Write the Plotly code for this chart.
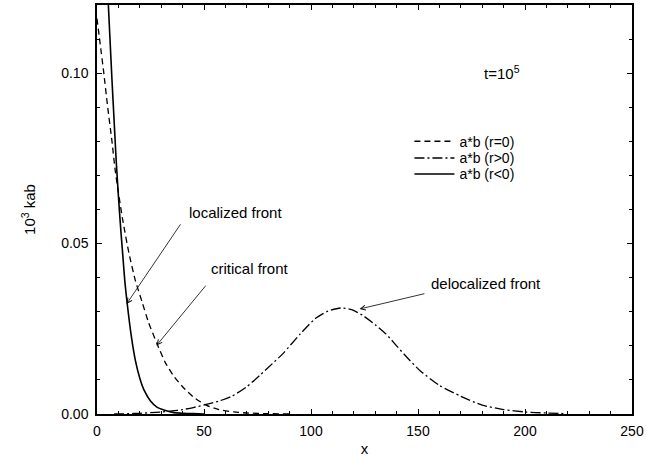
import plotly.graph_objects as go

# r<0 (solid)
x_neg = [4, 5, 6, 7, 8, 9, 10, 11, 12, 13, 14, 16, 18, 20, 22, 25, 28, 32, 36, 40, 45, 50]
y_neg = [0.137, 0.124, 0.111, 0.098, 0.086, 0.074, 0.064, 0.055, 0.047, 0.039, 0.033, 0.023,
         0.0155, 0.0105, 0.007, 0.0038, 0.002, 0.001, 0.0004, 0.0002, 0.0001, 0.0]

# r=0 (dashed)
x_zero = [0, 1, 2, 3, 5, 7, 8.4, 10, 12, 15, 18, 21, 24, 28, 32, 36, 40, 45, 51, 57, 64, 70, 80, 90]
y_zero = [0.116, 0.111, 0.106, 0.101, 0.090, 0.080, 0.072, 0.065, 0.057, 0.047, 0.039, 0.033,
          0.027, 0.0207, 0.015, 0.011, 0.008, 0.005, 0.0026, 0.0013, 0.0006, 0.0003, 0.0001, 0.0]

# r>0 (dash-dot)
x_pos = [8, 15, 20, 25, 30, 35, 40, 45, 51, 57, 63, 70, 76, 82, 87, 95, 102, 108, 114, 119,
         124, 130, 135, 140, 145, 151, 160, 170, 180, 190, 200, 210, 219]
y_pos = [0.0, 0.0001, 0.0002, 0.0004, 0.0006, 0.0009, 0.0013, 0.0019, 0.0028, 0.0038, 0.0052,
         0.0080, 0.0113, 0.0148, 0.0178, 0.0235, 0.0280, 0.0302, 0.0311, 0.0306, 0.0290, 0.0262,
         0.0235, 0.0200, 0.0165, 0.0127, 0.0084, 0.0052, 0.0026, 0.0013, 0.0006, 0.0003, 0.0001]

x_ticks = [0, 50, 100, 150, 200, 250]
y_ticks = [0.0, 0.05, 0.10]

FONT = "Liberation Sans, Arial, Helvetica, sans-serif"

fig = go.Figure()
fig.add_trace(go.Scatter(x=x_zero, y=y_zero, mode="lines", name="a*b (r=0)", legend="legend",
                         line=dict(color="black", width=1.3, dash="6px,4px", shape="spline", smoothing=0.6)))
fig.add_trace(go.Scatter(x=x_pos, y=y_pos, mode="lines", name="a*b (r>0)", legend="legend2",
                         line=dict(color="black", width=1.3, dash="10px,3px,2px,3px", shape="spline", smoothing=0.6)))
fig.add_trace(go.Scatter(x=x_neg, y=y_neg, mode="lines", name="a*b (r<0)", legend="legend3",
                         line=dict(color="black", width=1.6, shape="spline", smoothing=0.6)))

arrows = [
    # text, tip x, tip y, start x, start y, text x, text y
    ("localized front", 13.85, 0.0323, 39.5, 0.0561, 64.8, 0.0592),
    ("critical front", 27.8, 0.0201, 51.4, 0.0381, 71.6, 0.0426),
    ("delocalized front", 122.7, 0.0308, 153.7, 0.0354, 181.7, 0.0382),
]
for txt, tx, ty, sx, sy, lx, ly in arrows:
    fig.add_annotation(x=tx, y=ty, ax=sx, ay=sy, axref="x", ayref="y", xref="x", yref="y",
                       text="", showarrow=True, arrowhead=5, arrowsize=1.2, arrowwidth=0.8,
                       arrowcolor="black", standoff=0, startstandoff=0)
    fig.add_annotation(x=lx, y=ly, xref="x", yref="y", text=txt, showarrow=False,
                       font=dict(family=FONT, size=15, color="black"))

fig.add_annotation(x=189.4, y=0.1003, xref="x", yref="y", text="t=10<sup>5</sup>", showarrow=False,
                   font=dict(family=FONT, size=15, color="black"))

axis_common = dict(showline=True, linecolor="black", linewidth=1.5, mirror="ticks",
                   ticks="inside", tickcolor="black", ticklen=5, tickwidth=1,
                   showgrid=False, zeroline=False,
                   tickfont=dict(family=FONT, size=14, color="black"))

fig.update_xaxes(range=[0, 250], tickvals=x_ticks, ticklabelstandoff=3,
                 minor=dict(dtick=10, ticks="inside", ticklen=3, tickcolor="black", showgrid=False),
                 title=dict(text="x", font=dict(family=FONT, size=15, color="black"), standoff=6),
                 **axis_common)
fig.update_yaxes(range=[0, 0.12], tickvals=y_ticks, tickformat=".2f", ticklabelstandoff=4,
                 minor=dict(dtick=0.01, ticks="inside", ticklen=3, tickcolor="black", showgrid=False),
                 title=dict(text="10<sup>3</sup> kab", font=dict(family=FONT, size=15, color="black"), standoff=22),
                 **axis_common)

legend_common = dict(x=0.584, xanchor="left", yanchor="top", bgcolor="rgba(0,0,0,0)",
                     itemwidth=40, font=dict(family=FONT, size=14, color="black"))

fig.update_layout(
    width=647, height=460,
    margin=dict(l=97, r=14, t=3, b=46),
    plot_bgcolor="white", paper_bgcolor="white",
    showlegend=True,
    legend=dict(y=0.705, **legend_common),
    legend2=dict(y=0.664, **legend_common),
    legend3=dict(y=0.625, **legend_common),
)

fig.write_html("out.html")
